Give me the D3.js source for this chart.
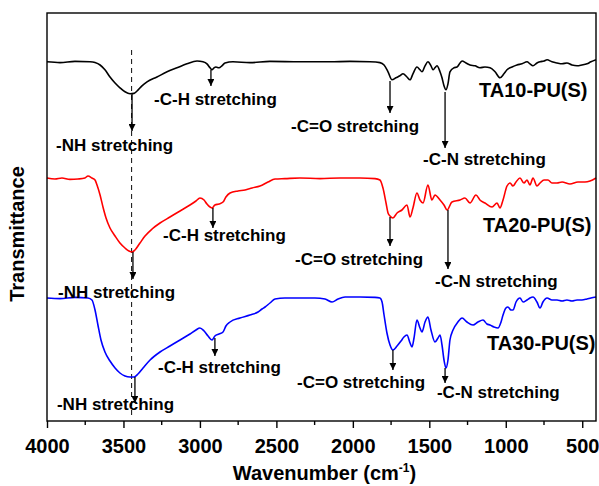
<!DOCTYPE html>
<html>
<head>
<meta charset="utf-8">
<script src="https://cdn.jsdelivr.net/npm/d3@7/dist/d3.min.js"></script>
<style>
  html, body { margin: 0; padding: 0; background: #fff; }
  svg text { font-family: "Liberation Sans", Arial, Helvetica, sans-serif; font-weight: bold; fill: #000; }
</style>
</head>
<body>
<svg id="chart" width="599" height="486"></svg>
<script>
// FTIR spectra: [wavenumber (cm-1), transmittance (a.u., stacked offsets)]
const seriesNames = ["TA10-PU(S)", "TA20-PU(S)", "TA30-PU(S)"];
const seriesColors = ["#000000", "#ff0000", "#0000ff"];

const ta10 = [[4000,89.8],[3915,89.6],[3817,89.9],[3719,89.8],[3686,89.6],[3653,89.0],[3621,87.8],[3588,86.0],[3555,84.5],[3523,83.3],[3490,82.3],[3457,81.8],[3431,81.9],[3411,82.5],[3379,83.8],[3346,84.8],[3281,86.0],[3215,87.3],[3150,88.3],[3085,89.3],[3019,90.0],[2980,89.8],[2954,89.3],[2934,88.3],[2921,87.8],[2908,88.3],[2895,88.5],[2875,88.3],[2856,88.8],[2836,89.5],[2784,89.8],[2673,89.6],[2542,89.9],[2346,89.8],[2150,89.8],[2019,89.9],[1888,89.8],[1823,89.6],[1796,89.0],[1770,87.3],[1744,85.3],[1718,85.8],[1692,86.3],[1672,86.8],[1646,86.0],[1626,85.3],[1607,86.8],[1581,88.5],[1561,87.8],[1548,87.3],[1528,88.8],[1509,89.8],[1489,88.8],[1476,87.8],[1463,88.3],[1450,88.8],[1430,87.3],[1417,85.8],[1404,83.8],[1391,82.8],[1378,84.3],[1365,87.3],[1339,88.3],[1319,88.5],[1299,89.5],[1286,90.0],[1260,89.5],[1234,89.0],[1201,88.8],[1169,88.3],[1136,88.5],[1103,88.3],[1070,87.3],[1038,85.8],[1012,86.8],[992,87.8],[959,88.5],[927,89.0],[894,89.3],[861,89.8],[842,89.3],[822,88.8],[796,89.5],[776,89.8],[750,90.0],[730,90.3],[698,89.8],[665,89.5],[632,89.3],[600,89.5],[567,89.0],[534,88.8],[502,89.0],[469,89.3],[443,89.8],[410,90.3]];

const ta20 = [[4000,60.75],[3948,60.5],[3902,60.75],[3850,60.4],[3797,60.5],[3752,60.75],[3732,61.25],[3706,60.75],[3686,60.25],[3673,59.0],[3653,56.5],[3634,53.5],[3614,50.75],[3588,48.25],[3555,46.25],[3523,44.5],[3490,43.25],[3464,42.5],[3444,42.25],[3425,42.75],[3392,44.5],[3359,46.25],[3313,48.0],[3261,49.5],[3196,51.0],[3130,52.5],[3065,54.0],[3026,55.0],[3000,55.75],[2973,55.25],[2954,54.25],[2934,53.5],[2921,53.25],[2902,54.0],[2875,54.25],[2849,54.75],[2830,56.0],[2803,57.0],[2751,57.5],[2705,57.75],[2659,58.25],[2607,58.75],[2555,59.75],[2509,60.5],[2444,60.6],[2346,60.75],[2215,60.6],[2084,60.75],[1953,60.75],[1855,60.6],[1823,60.25],[1803,58.25],[1783,54.5],[1770,52.0],[1757,51.25],[1738,50.75],[1711,52.0],[1679,52.75],[1646,54.0],[1626,51.0],[1607,53.25],[1581,57.0],[1561,55.25],[1541,54.5],[1509,59.0],[1483,55.25],[1463,56.5],[1430,55.25],[1404,54.0],[1384,52.75],[1352,54.75],[1299,55.25],[1267,55.75],[1234,54.5],[1195,56.5],[1169,55.25],[1136,54.5],[1090,53.5],[1057,54.5],[1038,53.25],[1018,55.25],[992,58.75],[972,59.5],[953,58.75],[933,59.75],[907,60.75],[881,59.5],[861,60.25],[842,59.0],[822,60.75],[796,58.75],[776,59.5],[750,60.25],[724,60.25],[698,59.5],[665,59.5],[632,59.75],[580,59.25],[528,59.75],[482,59.75],[449,60.0],[410,60.75]];

const ta30 = [[4000,30.75],[3915,30.6],[3817,30.9],[3732,30.75],[3706,30.25],[3686,27.75],[3667,24.0],[3647,20.25],[3621,17.25],[3588,15.0],[3555,13.25],[3523,12.0],[3490,11.25],[3457,11.0],[3431,11.0],[3405,11.75],[3372,13.25],[3326,15.25],[3261,17.25],[3196,18.75],[3130,20.25],[3065,21.75],[3026,22.75],[3000,23.25],[2973,22.5],[2947,21.25],[2921,20.25],[2902,21.25],[2875,21.75],[2849,22.25],[2830,23.75],[2803,24.75],[2738,25.75],[2673,26.5],[2620,27.25],[2594,28.0],[2574,28.5],[2542,29.5],[2509,30.5],[2444,30.75],[2346,30.75],[2248,30.75],[2182,30.5],[2136,29.75],[2097,30.5],[2051,31.0],[1953,31.0],[1855,30.9],[1823,30.75],[1809,29.75],[1796,26.5],[1777,22.0],[1757,19.0],[1738,17.75],[1711,18.75],[1685,20.0],[1666,21.0],[1646,21.5],[1626,19.5],[1613,18.5],[1600,20.75],[1581,25.25],[1561,23.25],[1548,22.25],[1528,24.75],[1509,26.0],[1489,22.75],[1463,19.75],[1443,20.75],[1430,21.5],[1417,19.0],[1404,15.25],[1391,13.25],[1378,15.25],[1365,20.25],[1345,22.75],[1313,24.75],[1286,25.75],[1254,24.75],[1214,24.0],[1182,24.75],[1149,25.25],[1123,24.25],[1103,24.0],[1077,23.5],[1051,23.25],[1031,24.75],[1018,26.5],[999,28.25],[986,28.5],[966,27.75],[953,27.75],[933,29.75],[907,30.75],[887,29.75],[861,30.25],[842,30.75],[822,31.0],[796,29.75],[776,28.25],[757,29.75],[730,30.75],[698,30.25],[665,30.25],[632,30.0],[600,30.25],[567,30.0],[534,30.25],[502,30.25],[469,30.5],[443,30.75],[410,31.0]];

const spectra = [ta10, ta20, ta30];

// x-axis ticks
const majorTicks = [4000, 3500, 3000, 2500, 2000, 1500, 1000, 500];
const minorTicks = [3750, 3250, 2750, 2250, 1750, 1250, 750];

// band assignments: [series index, wavenumber, T at band, T at arrow tip]
const bandArrows = [
  [0, 3444, 81.75, 72.5], [0, 2928, 87.75, 83.75], [0, 1757, 85.0, 77.0], [0, 1397, 82.25, 68.25],
  [1, 3438, 42.25, 35.5], [1, 2915, 53.25, 48.25], [1, 1757, 51.0, 43.75], [1, 1378, 52.75, 38.0],
  [2, 3425, 11.0, 4.5],   [2, 2902, 20.75, 16.25], [2, 1738, 17.75, 12.75], [2, 1397, 13.25, 9.5]
];

// band label texts, anchored at [wavenumber, T] of the text start/baseline
const bandLabels = [
  ["-NH stretching", 3941, 67.5], ["-C-H stretching", 3300, 79.0], ["-C=O stretching", 2404, 72.25], ["-C-N stretching", 1541, 64.0],
  ["-NH stretching", 3928, 30.75], ["-C-H stretching", 3241, 45.0], ["-C=O stretching", 2378, 39.0], ["-C-N stretching", 1463, 33.5],
  ["-NH stretching", 3935, 2.75], ["-C-H stretching", 3274, 12.0], ["-C=O stretching", 2365, 8.25], ["-C-N stretching", 1450, 5.75]
];

// sample name positions [wavenumber, T]
const nameAnchors = [[1175, 81.0], [1149, 47.25], [1123, 17.75]];

// N-H reference line
const nhLine = { wn: 3447, from: 92.75, to: 0.75 };

const margin = { left: 47, right: 3, top: 13, bottom: 65 };
const width = 599, height = 486;

const svg = d3.select("#chart");

const x = d3.scaleLinear().domain([4000, 410]).range([margin.left, width - margin.right]);
const y = d3.scaleLinear().domain([0, 102]).range([height - margin.bottom, margin.top]);

// arrowhead marker
svg.append("defs").append("marker")
  .attr("id", "arrowhead")
  .attr("viewBox", "0 0 10 10")
  .attr("refX", 10).attr("refY", 5)
  .attr("markerWidth", 7).attr("markerHeight", 7)
  .attr("markerUnits", "userSpaceOnUse")
  .attr("orient", "auto")
  .append("path").attr("d", "M0,0 L10,5 L0,10 Z").attr("fill", "#000");

// reference dashed line
svg.append("line")
  .attr("x1", x(nhLine.wn)).attr("x2", x(nhLine.wn))
  .attr("y1", y(nhLine.from)).attr("y2", y(nhLine.to))
  .attr("stroke", "#222").attr("stroke-width", 1.1)
  .attr("stroke-dasharray", "5,4");

// spectra
const line = d3.line().x(d => x(d[0])).y(d => y(d[1])).curve(d3.curveMonotoneX);
spectra.forEach((data, i) => {
  svg.append("path")
    .datum(data)
    .attr("fill", "none")
    .attr("stroke", seriesColors[i])
    .attr("stroke-width", 1.6)
    .attr("stroke-linejoin", "round")
    .attr("d", line);
});

// arrows
svg.append("g").selectAll("line").data(bandArrows).join("line")
  .attr("x1", d => x(d[1])).attr("x2", d => x(d[1]))
  .attr("y1", d => y(d[2])).attr("y2", d => y(d[3]))
  .attr("stroke", "#000").attr("stroke-width", 1.3)
  .attr("marker-end", "url(#arrowhead)");

// band labels
svg.append("g").selectAll("text").data(bandLabels).join("text")
  .attr("x", d => x(d[1])).attr("y", d => y(d[2]))
  .attr("font-size", 17)
  .text(d => d[0]);

// sample names
svg.append("g").selectAll("text").data(nameAnchors).join("text")
  .attr("x", d => x(d[0])).attr("y", d => y(d[1]))
  .attr("font-size", 20)
  .text((d, i) => seriesNames[i]);

// frame
svg.append("rect")
  .attr("x", margin.left).attr("y", margin.top)
  .attr("width", width - margin.right - margin.left)
  .attr("height", height - margin.bottom - margin.top)
  .attr("fill", "none").attr("stroke", "#000").attr("stroke-width", 1.4);

// x axis
const xAxis = svg.append("g")
  .attr("transform", `translate(0,${height - margin.bottom})`)
  .call(d3.axisBottom(x).tickValues(majorTicks).tickSize(7).tickSizeOuter(0).tickFormat(d3.format("d")));
xAxis.select(".domain").remove();
xAxis.selectAll(".tick line").attr("stroke-width", 1.4);
xAxis.selectAll(".tick text")
  .attr("font-size", 20).attr("font-family", null).attr("dy", null).attr("y", 32);

svg.append("g")
  .attr("transform", `translate(0,${height - margin.bottom})`)
  .selectAll("line").data(minorTicks).join("line")
  .attr("x1", d => x(d)).attr("x2", d => x(d))
  .attr("y1", 0).attr("y2", 4)
  .attr("stroke", "#000").attr("stroke-width", 1.4);

// axis titles
const xt = svg.append("text")
  .attr("x", (margin.left + width - margin.right) / 2 + 3)
  .attr("y", 480)
  .attr("text-anchor", "middle")
  .attr("font-size", 20);
xt.append("tspan").text("Wavenumber (cm");
xt.append("tspan").attr("font-size", 12).attr("dy", -8).text("-1");
xt.append("tspan").attr("dy", 8).text(")");

svg.append("text")
  .attr("transform", "translate(24,234) rotate(-90)")
  .attr("text-anchor", "middle")
  .attr("font-size", 20)
  .text("Transmittance");
</script>
</body>
</html>
